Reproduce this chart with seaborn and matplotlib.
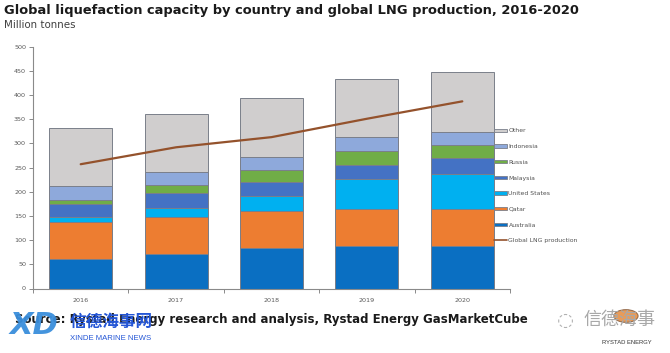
import numpy as np
import pandas as pd
import matplotlib
matplotlib.use("Agg")
import matplotlib.pyplot as plt
from matplotlib.patches import Patch, Circle
from matplotlib.lines import Line2D
import seaborn as sns

years = ["2016", "2017", "2018", "2019", "2020"]
series_names = ["Australia", "Qatar", "United States", "Malaysia", "Russia", "Indonesia", "Other"]
australia = [61, 71, 83, 88, 88]
qatar = [77, 76, 78, 77, 76]
united_states = [10, 20, 30, 62, 72]
malaysia = [27, 30, 30, 29, 33]
russia = [9, 17, 25, 29, 28]
indonesia = [27, 26, 26, 28, 27]
other = [120, 120, 122, 121, 124]
lng_production = [257, 292, 313, 351, 387]

colors = {
    "Australia": "#0A6FC2",
    "Qatar": "#ED7D31",
    "United States": "#00B0F0",
    "Malaysia": "#4472C4",
    "Russia": "#70AD47",
    "Indonesia": "#8EA9DB",
    "Other": "#D0CECE",
}
line_color = "#94522C"

sns.set_theme(style="white")
plt.rcParams["font.family"] = ["DejaVu Sans", "Noto Sans CJK SC"]

values = [australia, qatar, united_states, malaysia, russia, indonesia, other]
cum = np.cumsum(np.array(values, dtype=float), axis=0)

fig = plt.figure(figsize=(6.7, 3.53), dpi=100)
ax = fig.add_axes([33 / 670, 1 - 288.5 / 353, (510 - 33) / 670, (288.5 - 46.7) / 353])

# draw cumulative bars from top layer down so lower layers cover
for i in range(len(series_names) - 1, -1, -1):
    df = pd.DataFrame({"year": years, "value": cum[i]})
    sns.barplot(data=df, x="year", y="value", color=colors[series_names[i]],
                width=0.66, edgecolor="#7a7f8a", linewidth=0.7, saturation=1,
                order=years, ax=ax, zorder=2)

sns.lineplot(x=np.arange(len(years)), y=lng_production, color=line_color,
             linewidth=1.6, ax=ax, zorder=5)

ax.set_xlim(-0.5, len(years) - 0.5)
ax.set_ylim(0, 500)
ax.set_yticks(range(0, 501, 50))
ax.set_xlabel("")
ax.set_ylabel("")
for s in ["top", "right"]:
    ax.spines[s].set_visible(False)
for s in ["left", "bottom"]:
    ax.spines[s].set_color("#8a8a8a")
    ax.spines[s].set_linewidth(0.8)
ax.tick_params(axis="y", which="major", left=True, length=3, width=0.7, color="#8a8a8a",
               labelsize=4.6, labelcolor="#595959", pad=2)
ax.tick_params(axis="x", which="major", bottom=False, labelsize=4.6, labelcolor="#595959", pad=0.5)
ax.set_xticks(np.arange(-0.5, len(years), 1.0), minor=True)
ax.tick_params(axis="x", which="minor", bottom=True, length=3, width=0.7, color="#8a8a8a")
ax.grid(False)

# legend
handles = []
labels = []
for name in series_names[::-1]:
    handles.append(Patch(facecolor=colors[name], edgecolor="#7a7f8a", linewidth=0.6))
    labels.append(name)
handles.append(Line2D([0], [0], color=line_color, linewidth=1.2))
labels.append("Global LNG production")
leg = fig.legend(handles, labels, loc="upper left", bbox_to_anchor=(492 / 670, 1 - 126 / 353),
                 frameon=False, fontsize=4.4, handlelength=2.0, handleheight=0.5,
                 labelspacing=1.75, handletextpad=0.3, borderaxespad=0)
for t in leg.get_texts():
    t.set_color("#505050")

# titles
fig.text(4 / 670, 1 - 4 / 353, "Global liquefaction capacity by country and global LNG production, 2016-2020",
         fontsize=9.4, fontweight="bold", color="#1a1a1a", ha="left", va="top")
fig.text(4 / 670, 1 - 19.5 / 353, "Million tonnes", fontsize=7.4, color="#404040",
         ha="left", va="top")

# source
fig.text(15 / 670, 1 - 320 / 353, "Source: Rystad Energy research and analysis, Rystad Energy GasMarketCube",
         fontsize=8.5, fontweight="bold", color="#1a1a1a", ha="left", va="center")

# watermark-like marks
fig.text(10 / 670, 1 - 326 / 353, "XD", fontsize=22, fontweight="bold", fontstyle="italic",
         color="#3A8EDC", ha="left", va="center", alpha=0.95)
fig.text(70 / 670, 1 - 322 / 353, "信德海事网", fontsize=12, fontweight="bold",
         color="#2456D6", ha="left", va="center", family=["Noto Sans CJK SC", "DejaVu Sans"])
fig.text(70 / 670, 1 - 338 / 353, "XINDE MARINE NEWS", fontsize=5.6,
         color="#2456D6", ha="left", va="center", family=["Liberation Sans", "DejaVu Sans"])
fig.text(583 / 670, 1 - 320 / 353, "信德海事", fontsize=13,
         color="#a8a8a8", ha="left", va="center", family=["Noto Sans CJK SC", "DejaVu Sans"])
fig.text(565 / 670, 1 - 320 / 353, "◌", fontsize=14, color="#b0b0b0", ha="center", va="center")
fig.patches.append(Circle((626 / 670, 1 - 316 / 353), 0.018, transform=fig.transFigure,
                          facecolor="#E58A3C", edgecolor="#8a6040", linewidth=0.8, alpha=0.85))
fig.text(627 / 670, 1 - 342 / 353, "RYSTAD ENERGY", fontsize=4.2,
         color="#333333", ha="center", va="center", family=["Liberation Sans", "DejaVu Sans"])

fig.savefig("out.png", dpi=100)
